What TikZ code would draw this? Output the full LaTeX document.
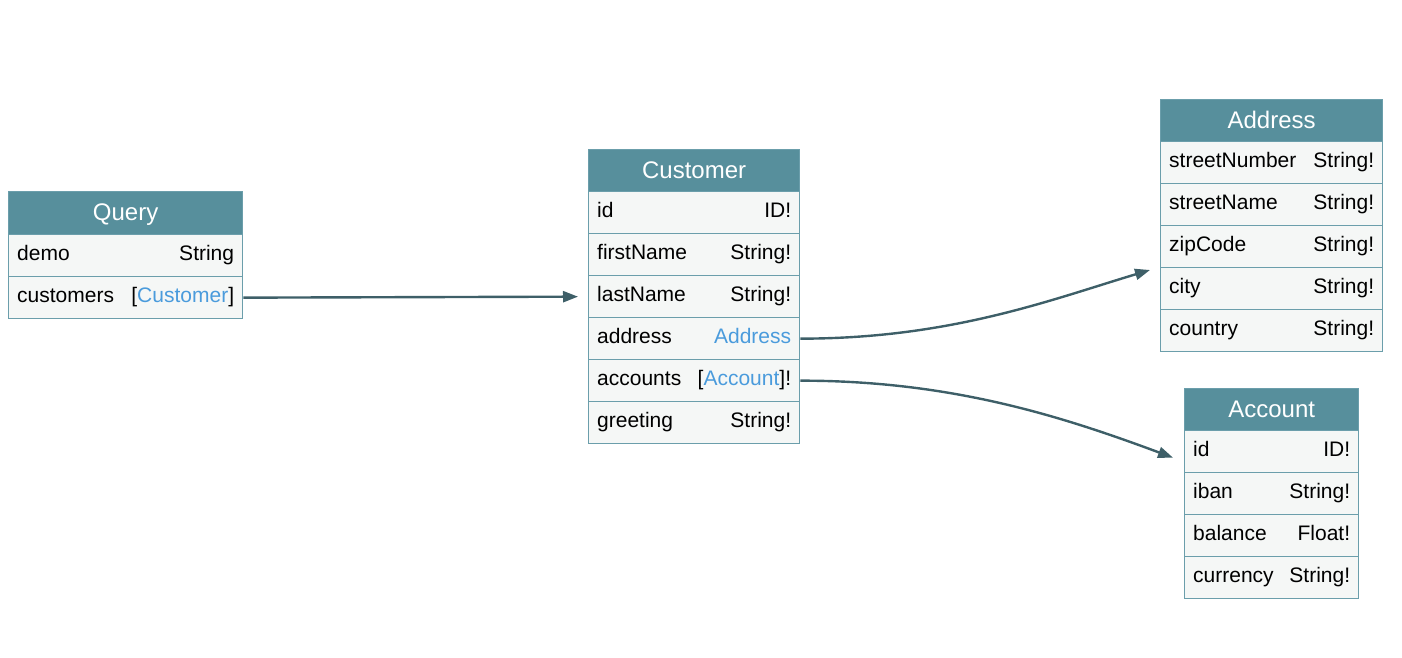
\documentclass[tikz,border=0pt]{standalone}
\usepackage{fontspec}
\setmainfont{Liberation Sans}
\usetikzlibrary{arrows.meta}
\definecolor{hdr}{HTML}{578F9C}
\definecolor{bord}{HTML}{6B9EAB}
\definecolor{rowfill}{HTML}{F5F7F6}
\definecolor{edgec}{HTML}{3E5F68}
\definecolor{tblue}{HTML}{4A9BDC}
\tikzset{
  hdrbox/.style={draw=bord, fill=hdr, line width=1.3pt, minimum height=43pt, inner sep=0pt, anchor=north west},
  titletxt/.style={anchor=base, inner sep=0pt, yshift=-7pt, text=white, font=\fontsize{24}{27}\selectfont},
  rowbox/.style={draw=bord, fill=rowfill, line width=1.3pt, minimum height=42pt, inner sep=0pt, anchor=north west},
  lefttxt/.style={anchor=base west, inner sep=0pt, xshift=9pt, yshift=-5pt, font=\fontsize{21}{24}\selectfont},
  righttxt/.style={anchor=base east, inner sep=0pt, xshift=-9pt, yshift=-5pt, font=\fontsize{21}{24}\selectfont},
  link/.style={draw=edgec, line width=2.4pt, -{Triangle[length=15pt,width=11pt]}},
}
\newcommand\ehead[5]{% name, x, y, width, title
  \node[hdrbox, minimum width=#4pt] (#1) at (#2,#3) {};
  \node[titletxt] (#1-t) at (#1.center) {#5};}
\newcommand\erow[6]{% name, x, y, width, left, right
  \node[rowbox, minimum width=#4pt] (#1) at (#2,#3) {};
  \node[lefttxt] (#1-l) at (#1.west) {#5};
  \node[righttxt] (#1-r) at (#1.east) {#6};}
\begin{document}
\begin{tikzpicture}[x=1pt,y=-1pt]
\useasboundingbox (0,0) rectangle (1402,658);
% Query
\ehead{q}{8}{191}{234}{Query}
\erow{q-demo}{8}{234}{234}{demo}{String}
\erow{q-cust}{8}{276}{234}{customers}{[\textcolor{tblue}{Customer}]}
% Customer
\ehead{c}{588}{149}{211}{Customer}
\erow{c-id}{588}{191}{211}{id}{ID!}
\erow{c-first}{588}{233}{211}{firstName}{String!}
\erow{c-last}{588}{275}{211}{lastName}{String!}
\erow{c-addr}{588}{317}{211}{address}{\textcolor{tblue}{Address}}
\erow{c-acc}{588}{359}{211}{accounts}{[\textcolor{tblue}{Account}]!}
\erow{c-greet}{588}{401}{211}{greeting}{String!}
% Address
\ehead{a}{1160}{99}{222}{Address}
\erow{a-num}{1160}{141}{222}{streetNumber}{String!}
\erow{a-name}{1160}{183}{222}{streetName}{String!}
\erow{a-zip}{1160}{225}{222}{zipCode}{String!}
\erow{a-city}{1160}{267}{222}{city}{String!}
\erow{a-country}{1160}{309}{222}{country}{String!}
% Account
\ehead{b}{1184}{388}{174}{Account}
\erow{b-id}{1184}{430}{174}{id}{ID!}
\erow{b-iban}{1184}{472}{174}{iban}{String!}
\erow{b-bal}{1184}{514}{174}{balance}{Float!}
\erow{b-cur}{1184}{556}{174}{currency}{String!}
% links
\draw[link] (q-cust.east) -- ([xshift=-10pt]c-last.west);
\draw[link] (c-addr.east) .. controls +(150,0) and +(-100,30) .. ([xshift=-10pt,yshift=-3pt]a-city.north west);
\draw[link] (c-acc.east) .. controls +(150,0) and +(-113,-42) .. ([xshift=-11pt,yshift=-6pt]b-id.west);
\end{tikzpicture}
\end{document}
